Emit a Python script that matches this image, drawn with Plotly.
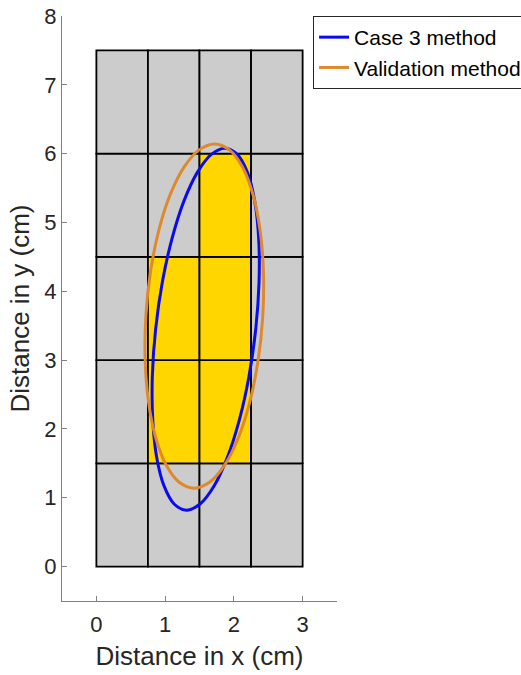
import plotly.graph_objects as go

# ---- data ----
x_edges = [0, 0.75, 1.5, 2.25, 3.0]
y_edges = [0, 1.5, 3.0, 4.5, 6.0, 7.5]
# (column index, row index) of highlighted cells
yellow_cells = [(1, 1), (1, 2), (2, 1), (2, 2), (2, 3)]

case3_x = [1.870, 2.049, 2.197, 2.303, 2.361, 2.366, 2.318, 2.221, 2.081, 1.907, 1.712, 1.508,
           1.310, 1.131, 0.984, 0.877, 0.820, 0.814, 0.862, 0.959, 1.100, 1.273, 1.469, 1.672, 1.870]
case3_y = [6.080, 5.990, 5.728, 5.310, 4.765, 4.131, 3.450, 2.769, 2.135, 1.590, 1.172, 0.910,
           0.820, 0.910, 1.172, 1.590, 2.135, 2.769, 3.450, 4.131, 4.765, 5.310, 5.728, 5.990, 6.080]

valid_x = [1.720, 1.935, 2.125, 2.277, 2.381, 2.430, 2.420, 2.352, 2.231, 2.065, 1.865, 1.645,
           1.420, 1.205, 1.015, 0.863, 0.759, 0.710, 0.720, 0.788, 0.909, 1.075, 1.275, 1.495, 1.720]
valid_y = [6.140, 6.055, 5.805, 5.408, 4.890, 4.287, 3.640, 2.993, 2.390, 1.872, 1.475, 1.225,
           1.140, 1.225, 1.475, 1.872, 2.390, 2.993, 3.640, 4.287, 4.890, 5.408, 5.805, 6.055, 6.140]

x_ticks = [0, 1, 2, 3]
y_ticks = [0, 1, 2, 3, 4, 5, 6, 7, 8]

GRAY = "#CCCCCC"
YELLOW = "#FFD600"
BLUE = "#0A0AF0"
ORANGE = "#DE8A2C"
TXT = "#262626"
FONT = "Liberation Sans, Arial, sans-serif"

fig = go.Figure()

shapes = []
for ci in range(len(x_edges) - 1):
    for ri in range(len(y_edges) - 1):
        fill = YELLOW if (ci, ri) in yellow_cells else GRAY
        shapes.append(dict(type="rect", xref="x", yref="y",
                           x0=x_edges[ci], x1=x_edges[ci + 1],
                           y0=y_edges[ri], y1=y_edges[ri + 1],
                           fillcolor=fill, line=dict(color="black", width=1.8),
                           layer="below"))

fig.add_trace(go.Scatter(x=case3_x, y=case3_y, mode="lines", name="Case 3 method",
                         line=dict(color=BLUE, width=3, shape="spline")))
fig.add_trace(go.Scatter(x=valid_x, y=valid_y, mode="lines", name="Validation method",
                         line=dict(color=ORANGE, width=3, shape="spline")))

axis_common = dict(showgrid=False, zeroline=False, showline=True, linecolor="#808080",
                   linewidth=1, ticks="inside", ticklen=5, tickcolor="#808080",
                   tickfont=dict(family=FONT, size=22, color=TXT), mirror=False)

fig.update_layout(
    width=521, height=675,
    margin=dict(l=62, r=184, t=16, b=74, autoexpand=False),
    paper_bgcolor="white", plot_bgcolor="white",
    shapes=shapes,
    font=dict(family=FONT, color=TXT),
    xaxis=dict(range=[-0.5, 3.5], tickvals=x_ticks, ticklabelstandoff=4, **axis_common,
               title=dict(text="Distance in x (cm)", font=dict(family=FONT, size=26, color=TXT),
                          standoff=10)),
    yaxis=dict(range=[-0.5, 8], tickvals=y_ticks, **axis_common,
               title=dict(text="Distance in y (cm)", font=dict(family=FONT, size=26, color=TXT),
                          standoff=7)),
    showlegend=True,
    legend=dict(x=0.913, y=1.0, xanchor="left", yanchor="top",
                bgcolor="white", bordercolor=TXT, borderwidth=1,
                font=dict(family=FONT, size=21, color="black"),
                itemwidth=30, tracegroupgap=0),
)

fig.write_html("out.html")
